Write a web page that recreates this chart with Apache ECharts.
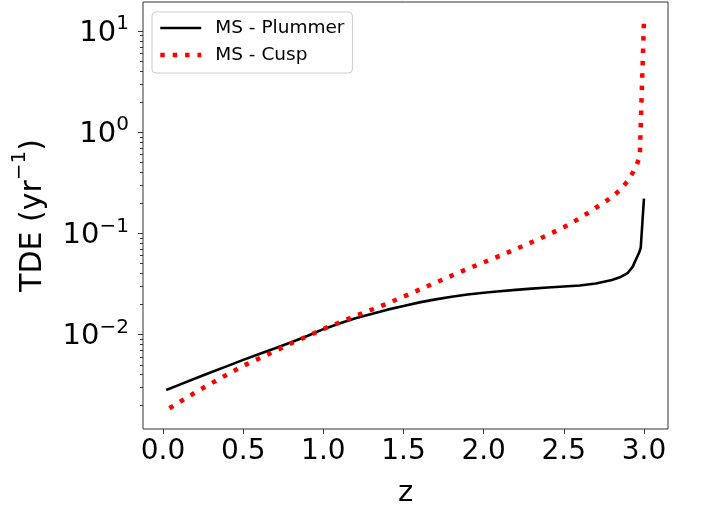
<!DOCTYPE html>
<html>
<head>
<meta charset="utf-8">
<script src="https://cdn.jsdelivr.net/npm/echarts@6/dist/echarts.min.js"></script>
<style>
  html, body { margin: 0; padding: 0; background: #fff; }
  #chart { width: 702px; height: 507px; }
</style>
</head>
<body>
<div id="chart"></div>
<script>
// MS - Plummer
const zPlummer = [0.02, 0.1, 0.2, 0.3, 0.4, 0.5, 0.6, 0.7, 0.8, 0.9, 1.0, 1.1, 1.2, 1.3, 1.4, 1.5, 1.6, 1.7, 1.8, 1.9, 2.0, 2.1, 2.2, 2.3, 2.4, 2.5, 2.6, 2.7, 2.8, 2.85, 2.9, 2.93, 2.95, 2.97, 2.98, 3.0]
const tdePlummer = [0.00282, 0.00317, 0.00366, 0.00423, 0.00486, 0.0056, 0.0064, 0.00731, 0.00836, 0.00964, 0.01127, 0.0128, 0.01446, 0.01596, 0.01758, 0.0191, 0.02075, 0.0222, 0.0236, 0.0248, 0.0258, 0.0267, 0.0276, 0.0284, 0.0291, 0.0298, 0.0305, 0.0319, 0.0345, 0.0367, 0.0407, 0.0468, 0.055, 0.0646, 0.072, 0.22]

// MS - Cusp
const zCusp = [0.04, 0.1, 0.2, 0.3, 0.4, 0.5, 0.6, 0.7, 0.8, 0.9, 1.0, 1.1, 1.2, 1.3, 1.4, 1.5, 1.6, 1.7, 1.8, 1.9, 2.0, 2.1, 2.2, 2.3, 2.4, 2.5, 2.6, 2.7, 2.75, 2.8, 2.85, 2.9, 2.93, 2.95, 2.97, 2.975, 3.0]
const tdeCusp = [0.00186, 0.00213, 0.00266, 0.00328, 0.00401, 0.00489, 0.00579, 0.00687, 0.00817, 0.0096, 0.01132, 0.01312, 0.0152, 0.01754, 0.0202, 0.02366, 0.0277, 0.0325, 0.0381, 0.0445, 0.0516, 0.0598, 0.0697, 0.0817, 0.0962, 0.1148, 0.141, 0.179, 0.201, 0.228, 0.267, 0.331, 0.398, 0.457, 0.55, 0.64, 12.6]

// 刻度
const xTicks = [0.0, 0.5, 1.0, 1.5, 2.0, 2.5, 3.0]
const yTicks = [0.01, 0.1, 1, 10]
const yMinorTicks = [0.002, 0.003, 0.004, 0.005, 0.006, 0.007, 0.008, 0.009,
  0.02, 0.03, 0.04, 0.05, 0.06, 0.07, 0.08, 0.09,
  0.2, 0.3, 0.4, 0.5, 0.6, 0.7, 0.8, 0.9,
  2, 3, 4, 5, 6, 7, 8, 9]

const font = 'DejaVu Sans'
const yMin = 0.00116
const yMax = 19.4

const chart = echarts.init(document.getElementById('chart'))

const option = {
  animation: false,
  textStyle: { fontFamily: font },
  grid: {
    left: 143,
    right: 34,
    top: 2,
    bottom: 78,
    containLabel: false,
    outerBoundsMode: 'none',
    show: true,
    borderColor: '#333',
    borderWidth: 1
  },
  legend: {
    orient: 'vertical',
    left: 152,
    top: 12,
    padding: [5, 8, 7, 6],
    itemGap: 5,
    itemWidth: 41,
    itemHeight: 14,
    backgroundColor: 'rgba(255,255,255,0.8)',
    borderColor: '#ccc',
    borderWidth: 1,
    borderRadius: 4,
    itemStyle: { opacity: 0 },
    textStyle: { fontFamily: font, fontSize: 18.5, color: '#000', lineHeight: 22, padding: [0, 0, 0, 9] },
    data: [
      { name: 'MS - Plummer', lineStyle: { color: '#000', width: 2.6, type: 'solid' } },
      { name: 'MS - Cusp', lineStyle: { color: '#ff0000', width: 4.5, type: [4.5, 7.9], cap: 'butt' } }
    ]
  },
  xAxis: {
    type: 'value',
    min: -0.125,
    max: 3.15,
    name: 'z',
    nameLocation: 'middle',
    nameGap: 50,
    nameTextStyle: { fontFamily: font, fontSize: 29, color: '#000' },
    axisLine: { show: false, onZero: false },
    splitLine: { show: false },
    axisTick: { show: true, length: 5, inside: false, customValues: xTicks, lineStyle: { color: '#333' } },
    axisLabel: {
      customValues: xTicks,
      margin: 9,
      fontFamily: font,
      fontSize: 28,
      color: '#000',
      formatter: v => v.toFixed(1)
    }
  },
  yAxis: [
    {
      type: 'log',
      logBase: 10,
      min: yMin,
      max: yMax,
      name: '{a|TDE (yr}{s|−1}{a|)}',
      nameLocation: 'middle',
      nameGap: 95,
      nameTextStyle: {
        rich: {
          a: { fontFamily: font, fontSize: 30, color: '#000', lineHeight: 38, verticalAlign: 'bottom' },
          s: { fontFamily: font, fontSize: 20, color: '#000', lineHeight: 38, verticalAlign: 'top' }
        }
      },
      axisLine: { show: false, onZero: false },
      splitLine: { show: false },
      minorTick: { show: false },
      axisTick: { show: true, length: 5, inside: false, customValues: yTicks, lineStyle: { color: '#333' } },
      axisLabel: {
        customValues: yTicks,
        margin: 14,
        formatter: v => '{b|10}{s|' + String(Math.round(Math.log10(v))).replace('-', '−') + '}',
        rich: {
          b: { fontFamily: font, fontSize: 29, color: '#000', lineHeight: 34, verticalAlign: 'bottom' },
          s: { fontFamily: font, fontSize: 20, color: '#000', lineHeight: 34, verticalAlign: 'top' }
        }
      }
    },
    {
      // 次刻度
      type: 'log',
      logBase: 10,
      min: yMin,
      max: yMax,
      position: 'left',
      offset: 0,
      axisLine: { show: false, onZero: false },
      splitLine: { show: false },
      axisLabel: { show: false },
      axisTick: { show: true, length: 3, inside: false, customValues: yMinorTicks, lineStyle: { color: '#333' } }
    }
  ],
  series: [
    {
      name: 'MS - Plummer',
      type: 'line',
      yAxisIndex: 0,
      showSymbol: false,
      symbol: 'none',
      data: zPlummer.map((z, i) => [z, tdePlummer[i]]),
      lineStyle: { color: '#000', width: 2.6 },
      itemStyle: { color: '#000' }
    },
    {
      name: 'MS - Cusp',
      type: 'line',
      yAxisIndex: 0,
      showSymbol: false,
      symbol: 'none',
      data: zCusp.map((z, i) => [z, tdeCusp[i]]),
      lineStyle: { color: '#ff0000', width: 4.5, type: [4.5, 7.9], cap: 'butt' },
      itemStyle: { color: '#ff0000' }
    }
  ]
}

chart.setOption(option)
</script>
</body>
</html>
